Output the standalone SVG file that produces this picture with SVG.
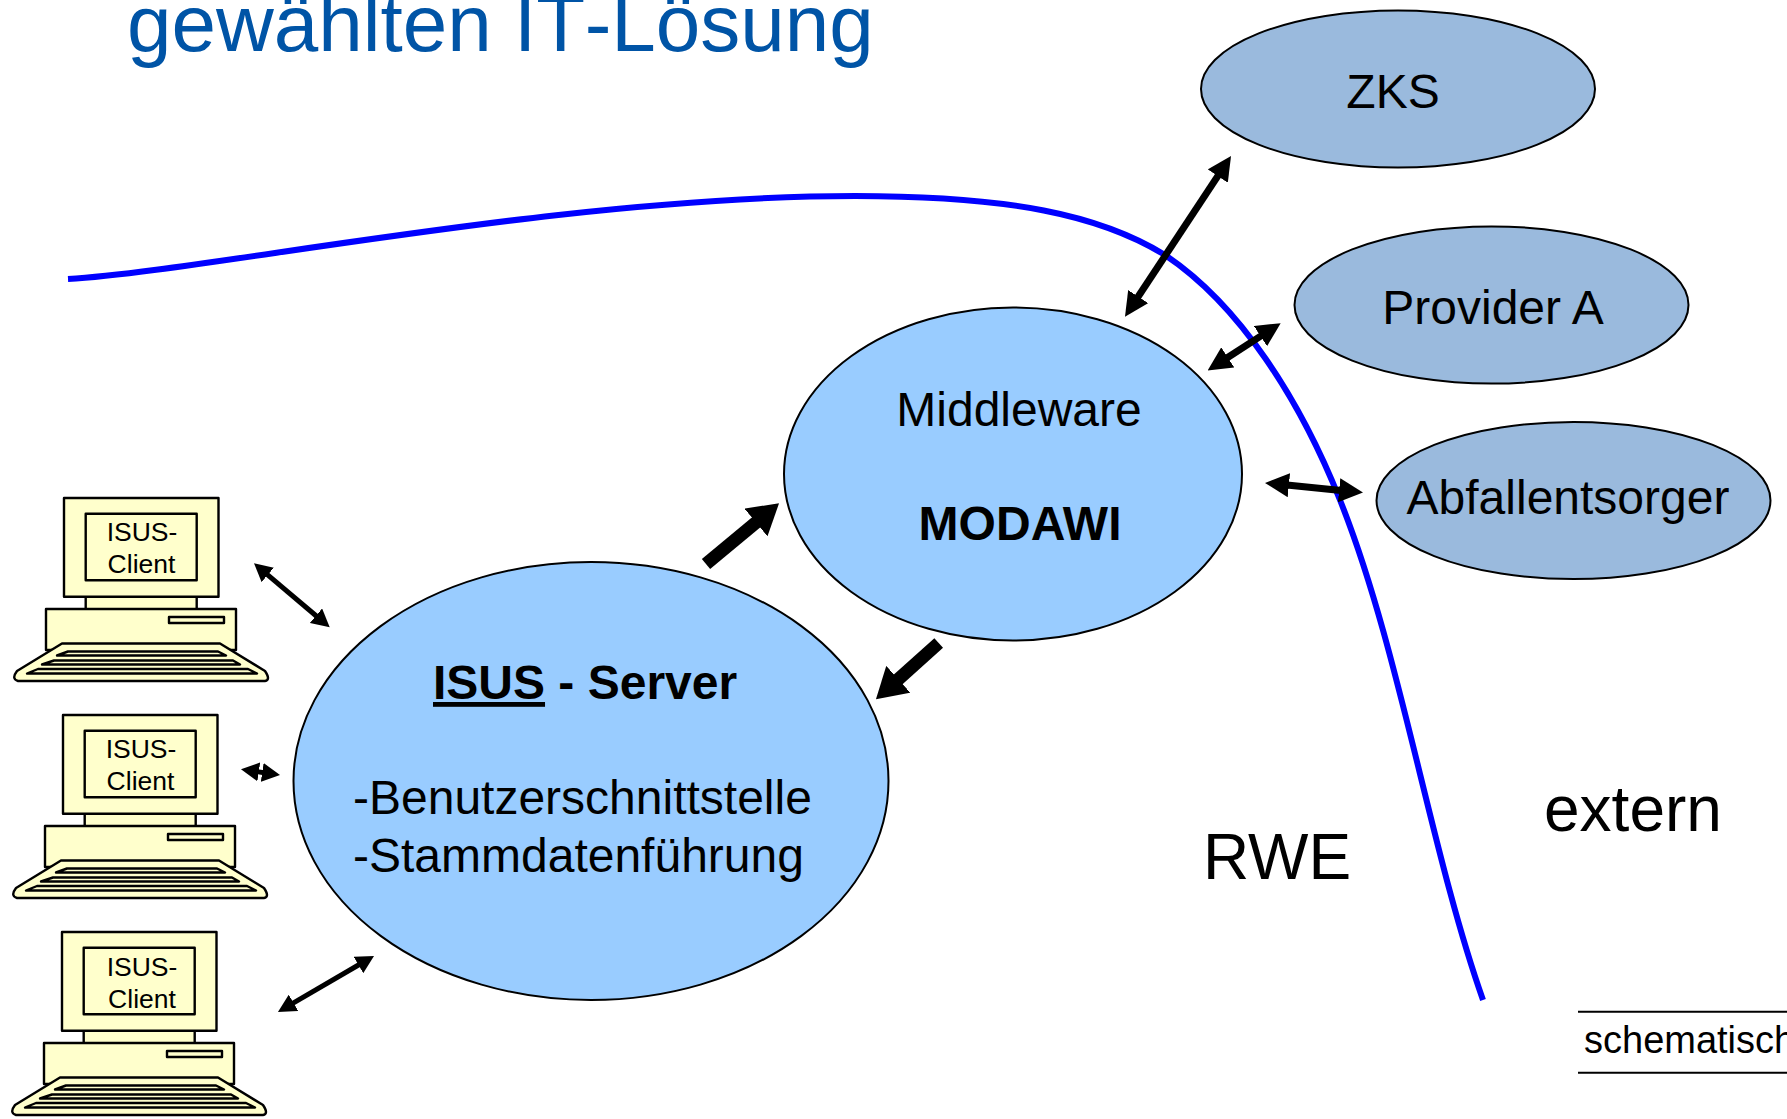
<svg xmlns="http://www.w3.org/2000/svg" width="1787" height="1119" viewBox="0 0 1787 1119">
<style>
text{font-family:"Liberation Sans",Arial,sans-serif;fill:#000}
.mid{text-anchor:middle}
.f48{font-size:48px}
.b{font-weight:bold}
.big{font-size:64px}
.ell{stroke:#000;stroke-width:2}
.srv{fill:#99ccff}
.ext{fill:#9abadd}
.pc{fill:#ffffcc;stroke:#000;stroke-width:2.4;stroke-linejoin:round}
.cl{font-size:26.5px;text-anchor:middle}
.a{stroke:#000;fill:none}
.s{stroke-width:5;marker-start:url(#hs);marker-end:url(#hs)}
.m{stroke-width:7;marker-start:url(#hm);marker-end:url(#hm)}
.t{stroke-width:13;marker-end:url(#ht)}
</style>
<defs>
<marker id="hs" markerUnits="userSpaceOnUse" markerWidth="19" markerHeight="19" refX="2" refY="9.5" orient="auto-start-reverse"><path d="M0,0L18,9.5L0,19z" fill="#000"/></marker>
<marker id="hm" markerUnits="userSpaceOnUse" markerWidth="24" markerHeight="24" refX="2" refY="12" orient="auto-start-reverse"><path d="M0,0L24,12L0,24z" fill="#000"/></marker>
<marker id="ht" markerUnits="userSpaceOnUse" markerWidth="30" markerHeight="36" refX="2" refY="18" orient="auto"><path d="M0,0L30,18L0,36z" fill="#000"/></marker>
<g id="pc">
<rect class="pc" x="85.7" y="596.7" width="111" height="14"/>
<path class="pc" d="M46,609H236V650H46z"/>
<rect class="pc" x="169" y="617" width="55" height="6"/>
<rect class="pc" x="64" y="498" width="154.5" height="98.7"/>
<rect class="pc" x="85.7" y="513.7" width="111" height="66.6"/>
<path class="pc" d="M62,643.5H220L265,671Q271,680 265,681H18Q11,679 17,671z"/>
<path class="pc" d="M68,651.5H218L226,655.5H57z M54,660.5H233L240,664.5H42z M38,669H248L257,673.5H27z" stroke-width="2"/>
</g>
</defs>
<text id="title" x="127" y="51" font-size="80" style="fill:#0054a6">gewählten IT<tspan dx="4">-Lösung</tspan></text>
<path id="boundary" d="M68,279C200,272 560,196 855,196C1010,196 1100,215 1165,255C1240,305 1300,400 1340,500C1400,650 1430,850 1483,1000" fill="none" stroke="#0000ff" stroke-width="6"/>
<g id="connectors">
<line class="a m" x1="1218.9" y1="174.4" x2="1137.1" y2="298.3"/>
<line class="a m" x1="1262.2" y1="335.1" x2="1226.1" y2="358.5"/>
<line class="a m" x1="1286.9" y1="485.1" x2="1341.1" y2="490.4"/>
<line class="a s" x1="266.2" y1="573.6" x2="317.5" y2="617"/>
<line class="a s" x1="256.8" y1="771.6" x2="264.2" y2="772.7"/>
<line class="a s" x1="291.8" y1="1003.9" x2="360.2" y2="964"/>
<line class="a t" x1="706" y1="564" x2="757.5" y2="521.2"/>
<line class="a t" x1="938.7" y1="643" x2="896.8" y2="680.6"/>
</g>
<g id="zks"><ellipse class="ell ext" cx="1398" cy="89" rx="197" ry="78.6"/><text class="f48 mid" x="1393" y="108">ZKS</text></g>
<g id="provider-a"><ellipse class="ell ext" cx="1491.5" cy="305" rx="197" ry="78.6"/><text class="f48 mid" x="1493" y="324">Provider A</text></g>
<g id="abfallentsorger"><ellipse class="ell ext" cx="1573.5" cy="500.5" rx="197" ry="78.6"/><text class="f48 mid" x="1568" y="514">Abfallentsorger</text></g>
<g id="middleware"><ellipse class="ell srv" cx="1013" cy="474" rx="229" ry="166.5"/><text class="f48 mid" x="1019" y="426">Middleware</text><text class="f48 mid b" x="1020" y="540" textLength="203">MODAWI</text></g>
<g id="isus-server"><ellipse class="ell srv" cx="591" cy="781" rx="297.5" ry="219"/>
<text class="f48 b" x="433" y="699"><tspan text-decoration="underline">ISUS</tspan> - Server</text>
<text class="f48" x="353" y="814">-Benutzerschnittstelle</text>
<text class="f48" x="353" y="872">-Stammdatenführung</text></g>
<g id="client-1"><use href="#pc"/><text class="cl" x="142" y="541">ISUS-</text><text class="cl" x="141.5" y="573">Client</text></g>
<g id="client-2" transform="translate(-1,217)"><use href="#pc"/><text class="cl" x="142" y="541">ISUS-</text><text class="cl" x="141.5" y="573">Client</text></g>
<g id="client-3" transform="translate(-2,434)"><use href="#pc"/><text class="cl" x="144" y="541.5">ISUS-</text><text class="cl" x="144" y="573.5">Client</text></g>
<text id="rwe" class="big" x="1203" y="879">RWE</text>
<text id="extern" class="big" x="1544" y="831">extern</text>
<g id="note"><path d="M1578,1011.7H1787M1578,1072.7H1787" stroke="#000" stroke-width="2"/><text x="1584" y="1053" font-size="38">schematisch</text></g>
</svg>
